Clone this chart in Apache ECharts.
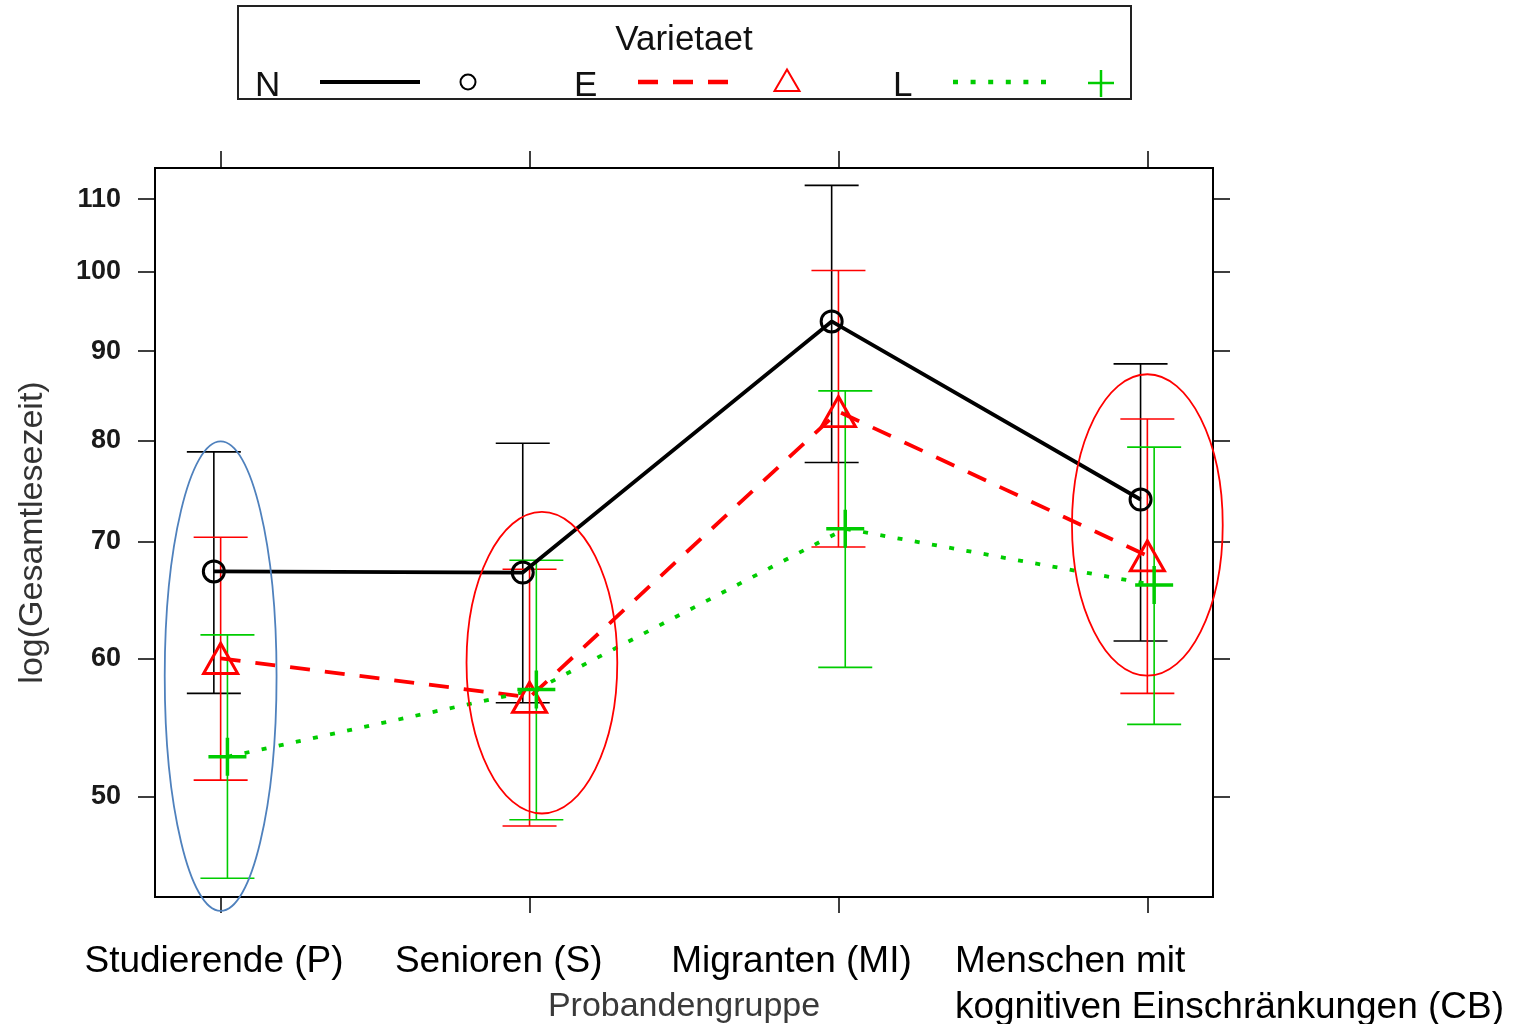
<!DOCTYPE html>
<html>
<head>
<meta charset="utf-8">
<script src="https://cdn.jsdelivr.net/npm/echarts@6/dist/echarts.min.js"></script>
<style>
html,body{margin:0;padding:0;background:#ffffff;}
#c{width:1517px;height:1024px;}
</style>
</head>
<body>
<div id="c"></div>
<script>
// ---------------- data ----------------
const categories = ['Studierende (P)', 'Senioren (S)', 'Migranten (MI)', 'Menschen mit\nkognitiven Einschränkungen (CB)'];
const yTickValues = [50, 60, 70, 80, 90, 100, 110];
const legendTitle = 'Varietaet';
const seriesNames = ['N', 'E', 'L'];
const xAxisName = 'Probandengruppe';
const yAxisName = 'log(Gesamtlesezeit)';

const N_mean  = [67.3, 67.2, 93.6, 74.0];
const N_lower = [57.3, 56.6, 77.7, 61.4];
const N_upper = [78.8, 79.7, 112.0, 88.5];

const E_mean  = [60.0, 57.0, 83.1, 68.7];
const E_lower = [51.1, 48.1, 69.5, 57.3];
const E_upper = [70.4, 67.5, 100.1, 82.3];

const L_mean  = [52.7, 57.6, 71.2, 66.1];
const L_lower = [44.9, 48.5, 59.3, 55.0];
const L_upper = [61.9, 68.3, 85.4, 79.3];

// annotation ellipses (category position, value span, half width in category units)
const ellipseCat       = [0.0, 1.04, 3.0];
const ellipseTopVal    = [79.9, 72.8, 87.3];
const ellipseBottomVal = [43.0, 48.9, 58.65];
const ellipseHalfWidth = [0.181, 0.244, 0.244];

// ---------------- layout / style ----------------
const FONT = '"Liberation Sans", Arial, sans-serif';
const X_MIN = -0.2125, X_MAX = 3.2125;
const Y_MIN = 43.8, Y_MAX = 114.6;
const OFF = { N: -0.022, E: 0, L: 0.022 };
const COL = { N: '#000000', E: '#ff0000', L: '#00cc00' };
const CAP = 27;
const LABEL_DX = [-6.6, -30.8, -47, -192.4];
const LABEL_ALIGN = ['center', 'center', 'center', 'left'];
const ELLIPSE_COL = ['#4f81bd', '#ff0000', '#ff0000'];

function pts(vals, off) { return vals.map((v, i) => [i + off, v]); }
function bars(lo, hi, off) { return lo.map((l, i) => [i + off, l, hi[i]]); }

function errSeries(name, lo, hi, off, color) {
  return {
    type: 'custom', name: name + '_err', data: bars(lo, hi, off),
    encode: { x: 0, y: [1, 2] }, silent: true, animation: false, z: 2,
    renderItem: function (params, api) {
      const x = api.value(0);
      const a = api.coord([x, api.value(1)]);
      const b = api.coord([x, api.value(2)]);
      const st = { stroke: color, lineWidth: 1.6, fill: null };
      return {
        type: 'group', children: [
          { type: 'line', shape: { x1: a[0], y1: a[1], x2: b[0], y2: b[1] }, style: st },
          { type: 'line', shape: { x1: a[0] - CAP, y1: a[1], x2: a[0] + CAP, y2: a[1] }, style: st },
          { type: 'line', shape: { x1: b[0] - CAP, y1: b[1], x2: b[0] + CAP, y2: b[1] }, style: st }
        ]
      };
    }
  };
}

function lineSeries(name, vals, off, color, dash, symbol, symbolSize, bw) {
  return {
    type: 'line', name: name, data: pts(vals, off), animation: false, silent: true, z: 3,
    symbol: symbol, symbolSize: symbolSize, showSymbol: true,
    lineStyle: { color: color, width: 3.8, type: dash },
    itemStyle: { color: 'transparent', borderColor: color, borderWidth: bw },
    emphasis: { disabled: true }
  };
}

const tickStyle = { color: '#000', width: 1.5 };

const option = {
  backgroundColor: '#ffffff',
  animation: false,
  textStyle: { fontFamily: FONT },
  grid: {
    left: 155, right: 304, top: 168, bottom: 127,
    show: true, borderColor: '#000', borderWidth: 2, backgroundColor: 'transparent',
    containLabel: false, outerBoundsMode: 'none'
  },
  xAxis: [
    {
      type: 'value', min: X_MIN, max: X_MAX, position: 'bottom',
      axisLine: { show: false, onZero: false },
      axisTick: { show: true, length: 16, customValues: [0, 1, 2, 3], lineStyle: tickStyle },
      axisLabel: { show: false },
      splitLine: { show: false },
      name: xAxisName, nameLocation: 'middle', nameGap: 93,
      nameTextStyle: { fontSize: 34, color: '#3a3a3a', fontFamily: FONT }
    },
    {
      type: 'value', min: X_MIN, max: X_MAX, position: 'top',
      axisLine: { show: false, onZero: false },
      axisTick: { show: true, length: 17, customValues: [0, 1, 2, 3], lineStyle: tickStyle },
      axisLabel: { show: false },
      splitLine: { show: false }
    }
  ],
  yAxis: [
    {
      type: 'log', logBase: 10, min: Y_MIN, max: Y_MAX, position: 'left',
      axisLine: { show: false, onZero: false },
      axisTick: { show: true, length: 17, customValues: yTickValues, lineStyle: tickStyle },
      axisLabel: {
        customValues: yTickValues, margin: 34, fontSize: 27, fontWeight: 'bold',
        color: '#1a1a1a', fontFamily: FONT, formatter: function (v) { return String(Math.round(v)); }
      },
      splitLine: { show: false },
      minorTick: { show: false },
      name: yAxisName, nameLocation: 'middle', nameGap: 105, nameRotate: 90,
      nameTextStyle: { fontSize: 34, color: '#333333', fontFamily: FONT }
    },
    {
      type: 'log', logBase: 10, min: Y_MIN, max: Y_MAX, position: 'right',
      axisLine: { show: false, onZero: false },
      axisTick: { show: true, length: 17, customValues: yTickValues, lineStyle: tickStyle },
      axisLabel: { show: false },
      splitLine: { show: false },
      minorTick: { show: false }
    }
  ],
  series: [
    errSeries('N', N_lower, N_upper, OFF.N, COL.N),
    lineSeries('N', N_mean, OFF.N, COL.N, 'solid', 'circle', 21, 3),
    errSeries('E', E_lower, E_upper, OFF.E, COL.E),
    lineSeries('E', E_mean, OFF.E, COL.E, [20, 15], 'triangle', [34, 30], 3),
    errSeries('L', L_lower, L_upper, OFF.L, COL.L),
    lineSeries('L', L_mean, OFF.L, COL.L, [5, 12.5], 'path://M0,20L40,20M20,0L20,40', 38, 3.5)
  ]
};

const chart = echarts.init(document.getElementById('c'), null, { renderer: 'canvas' });
chart.setOption(option);

// ---------------- graphic overlay (legend, category labels, annotations) ----------------
function toPx(x, y) { return chart.convertToPixel({ xAxisIndex: 0, yAxisIndex: 0 }, [x, y]); }

function txt(text, x, y, size, align, vAlign, color, lineHeight) {
  return {
    type: 'text', x: x, y: y, z: 100, silent: true,
    style: {
      text: text, font: size + 'px ' + FONT, fill: color,
      align: align, verticalAlign: vAlign, textAlign: align, textVerticalAlign: vAlign,
      lineHeight: lineHeight || size
    }
  };
}

const g = [];
// legend box
g.push({ type: 'rect', z: 99, silent: true, shape: { x: 238, y: 6, width: 893, height: 93 },
  style: { fill: '#ffffff', stroke: '#222222', lineWidth: 2 } });
g.push(txt(legendTitle, 684, 40, 35, 'center', 'middle', '#111111'));
const legendTextX = [255, 574, 893];
seriesNames.forEach((n, i) => g.push(txt(n, legendTextX[i], 86, 35, 'left', 'middle', '#111111')));
g.push({ type: 'line', z: 100, silent: true, shape: { x1: 320, y1: 82, x2: 420, y2: 82 },
  style: { stroke: COL.N, lineWidth: 4 } });
g.push({ type: 'circle', z: 100, silent: true, shape: { cx: 468, cy: 82, r: 7.5 },
  style: { fill: 'none', stroke: COL.N, lineWidth: 2 } });
g.push({ type: 'line', z: 100, silent: true, shape: { x1: 638, y1: 82, x2: 728, y2: 82 },
  style: { stroke: COL.E, lineWidth: 4.5, lineDash: [20, 15] } });
g.push({ type: 'polygon', z: 100, silent: true, shape: { points: [[787, 69.5], [774.5, 91], [799.5, 91]] },
  style: { fill: 'none', stroke: COL.E, lineWidth: 2 } });
g.push({ type: 'line', z: 100, silent: true, shape: { x1: 953, y1: 82, x2: 1048, y2: 82 },
  style: { stroke: COL.L, lineWidth: 4.5, lineDash: [5, 12.6] } });
g.push({ type: 'line', z: 100, silent: true, shape: { x1: 1088, y1: 83, x2: 1114, y2: 83 },
  style: { stroke: COL.L, lineWidth: 2.5 } });
g.push({ type: 'line', z: 100, silent: true, shape: { x1: 1101, y1: 70, x2: 1101, y2: 97 },
  style: { stroke: COL.L, lineWidth: 2.5 } });

// category labels under the axis
categories.forEach((c, i) => {
  const p = toPx(i, Y_MIN);
  g.push(txt(c, p[0] + LABEL_DX[i], 939, 37, LABEL_ALIGN[i], 'top', '#000000', 46));
});

// annotation ellipses
ellipseCat.forEach((cx, i) => {
  const top = toPx(cx, ellipseTopVal[i]);
  const bot = toPx(cx, ellipseBottomVal[i]);
  const side = toPx(cx + ellipseHalfWidth[i], ellipseTopVal[i]);
  g.push({ type: 'ellipse', z: 101, silent: true,
    shape: { cx: top[0], cy: (top[1] + bot[1]) / 2, rx: side[0] - top[0], ry: (bot[1] - top[1]) / 2 },
    style: { fill: 'none', stroke: ELLIPSE_COL[i], lineWidth: 1.8 } });
});

chart.setOption({ graphic: { elements: g } });
</script>
</body>
</html>
